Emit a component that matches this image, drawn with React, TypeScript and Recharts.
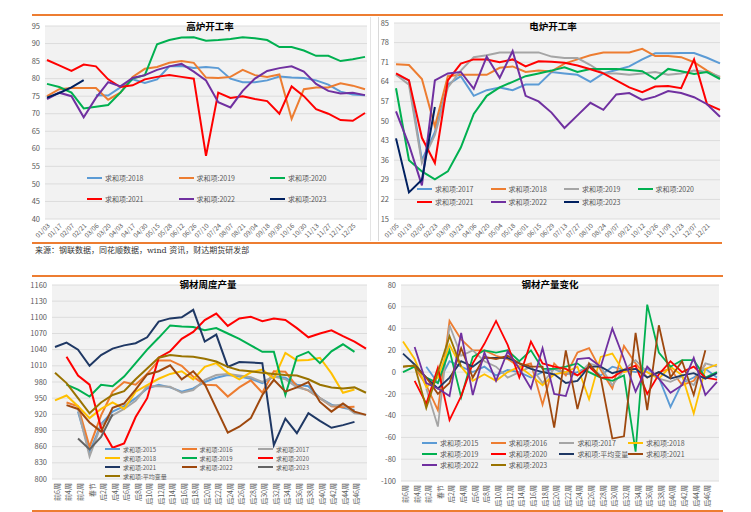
import React from "react"
import { CartesianGrid, Legend, Line, LineChart, XAxis, YAxis } from "recharts"

const FONT = '"Noto Sans CJK SC", "Noto Sans", sans-serif'
const GREY_TEXT = "#595959"

// 高炉开工率
const bfLabels = ["01/03", "01/17", "02/07", "02/21", "03/06", "03/20", "04/03", "04/17", "04/30", "05/15", "05/28", "06/12", "06/26", "07/10", "07/24", "08/07", "08/21", "09/04", "09/18", "09/30", "10/16", "10/30", "11/13", "11/27", "12/11", "12/25", ""]
const bf2018 = [null, null, null, null, 75.3, 75.2, 77.5, 79.8, 78.8, 79.8, 83.5, 83.6, 83, 83.3, 83, 80, 79, 79, 79.5, 80.6, 80.3, 80.2, 79.5, 78.3, 76.3, 75.5, 75.3]
const bf2019 = [75, 77, 77.3, 77.3, 77.3, 74, 76, 80.5, 82.8, 83.3, 84.5, 85, 84.5, 80.3, 80.2, 80.5, 82.5, 81, 80.5, 81.2, 68.5, 77, 77.5, 77.5, 78.7, 78, 77]
const bf2020 = [78.5, 77.6, 76, 71.5, 72, 72.5, 76, 80, 81, 89.8, 91, 91.7, 91.8, 90.8, 91, 91.3, 91.8, 91.5, 91, 89, 89, 88, 86.5, 86.5, 85, 85.5, 86.2]
const bf2021 = [85.3, 83.8, 82.2, 84, 83.5, 79.8, 77.6, 78.1, 79.8, 80.5, 81, 80.5, 80, 58, 76, 74.5, 75, 74.2, 73.6, 70, 77.8, 75, 71.3, 70, 68.2, 68, 70.2]
const bf2022 = [74.2, 76, 75, 69, 74.5, 79, 77.8, 80.2, 81, 82.5, 83.5, 84.2, 82, 79.5, 73.3, 71.8, 76.5, 80, 82.2, 83, 83.5, 82, 78.5, 76.5, 75.8, 76, 75.3]
const bf2023 = [74.6, 75.9, 77.5, 79.6]

// 电炉开工率
const efLabels = ["01/05", "01/19", "02/02", "02/23", "03/09", "03/23", "04/06", "04/20", "05/04", "05/18", "06/01", "06/15", "06/29", "07/13", "07/27", "08/10", "08/24", "09/07", "09/21", "10/12", "10/26", "11/09", "11/23", "12/07", "12/21", ""]
const ef2017 = [66.5, 64.5, 36, 46, 63, 66, 59, 61, 62, 61, 63, 63, 67.5, 67, 66.5, 64, 67, 68.2, 69.5, 72, 74.2, 74.2, 74.3, 74.3, 72.6, 70.6]
const ef2018 = [70.3, 70, 65, 48, 66, 66.5, 66.5, 66.5, 69, 69.5, 67.5, 68, 67.7, 70.5, 72, 73.5, 74.5, 74.5, 74.5, 75.8, 73.2, 73.2, 72.8, 71, 68, 65.5]
const ef2019 = [66.5, 63, 35, 45, 62, 68, 72.8, 73.5, 74.5, 74.5, 74.5, 74.5, 73, 72.5, 72.5, 70, 67, 67, 66.5, 67, 67.5, 66.5, 67, 68, 67.5, 65.8]
const ef2020 = [61.7, 36, 32, 29.2, 32, 40.5, 52.5, 59, 62, 64, 66, 67, 68, 69.2, 67.5, 68.6, 68.6, 68.6, 68.2, 67.8, 65, 68.6, 67.8, 66.8, 67.5, 65]
const ef2021 = [67, 64.5, 44, 35, 64.5, 70.5, 72, 72, 71, 72, 69.5, 71.3, 71.2, 70.8, 69.8, 68.5, 67, 64.5, 62, 60.3, 62.3, 62.5, 61.7, 72, 56, 54]
const ef2022 = [53.4, 41.5, 27, 64.5, 67, 67.5, 61.5, 73, 65.4, 75, 59, 57, 53, 47.5, 52, 56.5, 54, 59.5, 60, 57.5, 58.7, 60.7, 60, 58.5, 56, 51.5]
const ef2023 = [43.8, 24.5, 29, 55]

// 钢材周度产量 / 钢材产量变化
const weekLabels = ["前6周", "前4周", "前2周", "春节", "后2周", "后4周", "后6周", "后8周", "后10周", "后12周", "后14周", "后16周", "后18周", "后20周", "后22周", "后24周", "后26周", "后28周", "后30周", "后32周", "后34周", "后36周", "后38周", "后40周", "后42周", "后44周", "后46周", ""]
const out2015 = [null, null, 925, 850, 902, 925, 935, 950, 968, 975, 970, 962, 968, 980, 988, 993, 990, 986, 978, 990, 988, 975, 972, 950, 938, 932, 928, null]
const out2016 = [null, 942, 935, 860, 918, 962, 980, 975, 995, 1020, 1020, 1010, 990, 975, 974, 953, 970, 983, 960, 1000, 999, 972, 964, 950, 935, 933, 934, null]
const out2017 = [null, null, 930, 842, 900, 918, 930, 945, 972, 972, 971, 960, 965, 984, 993, 995, 992, 989, 980, 990, 985, 970, 965, 950, 936, 938, 922, 919]
const out2018 = [946, 955, 935, 913, 930, 942, 930, 962, 974, 986, 995, 1000, 985, 1008, 1015, 997, 985, 998, 1003, 986, 1034, 1020, 1021, 1025, 996, 960, 966, null]
const out2019 = [null, 975, 966, 953, 975, 972, 990, 1015, 1040, 1062, 1085, 1083, 1082, 1076, 1080, 1070, 1060, 1048, 1036, 1036, 956, 1027, 1036, 1015, 1037, 1050, 1036, null]
const out2020 = [null, 1027, 992, 975, 895, 858, 866, 915, 950, 1025, 1037, 1060, 1073, 1095, 1107, 1084, 1098, 1101, 1093, 1098, 1095, 1080, 1063, 1070, 1076, 1065, 1055, 1042]
const out2021 = [1045, 1053, 1040, 1010, 1030, 1042, 1048, 1052, 1063, 1092, 1098, 1100, 1114, 1055, 1068, 1008, 1017, 1016, 1015, 863, 912, 885, 922, 908, 895, 900, 906, null]
const out2022 = [null, 937, 930, 905, 888, 932, 940, 966, 994, 1000, 1011, 985, 1000, 976, 931, 886, 897, 913, 956, 984, 962, 970, 980, 943, 925, 940, 925, 919]
const out2023 = [null, null, 875, 855, 878, 920]
const outAvg = [997, 978, 950, 922, 942, 956, 963, 985, 1005, 1025, 1030, 1028, 1027, 1023, 1018, 1008, 1002, 1000, 997, 995, 993, 992, 985, 975, 970, 968, 970, 960]

const chg2015 = [null, null, 5, -10, 10, 5, 0, 5, -3, 2, 0, -5, 0, 3, -2, 0, 5, -3, 5, 2, 0, 3, -5, -32, -10, -5, 3, -5]
const chg2016 = [null, 5, -12, -35, 47, 30, 20, 20, 15, 12, 5, 8, -30, 8, -3, 18, 22, 2, -15, 24, 8, -5, 0, 3, -12, -8, 7, null]
const chg2017 = [null, null, -15, -50, 43, 15, 20, 10, 5, -5, 0, 5, -10, 3, 0, -3, 8, 5, -12, 2, 11, 0, -6, -9, -4, -12, 8, 5]
const chg2018 = [28, 12, -14, -5, 25, 5, -8, -2, -8, 0, 5, -3, -12, -2, 0, 5, -25, 14, 17, 0, 3, 0, -6, 5, -3, -38, 3, 7]
const chg2019 = [0, 5, -5, -10, 20, -23, 14, 20, 18, 20, 10, 20, 3, 3, 5, 8, 0, -5, -8, -3, -73, 62, 18, 5, 11, 11, -5, 0]
const chg2020 = [null, -8, -29, 4, -44, -22, 8, 26, 47, 25, -5, 28, 8, 5, 3, -3, 5, -5, -5, 2, 6, -20, -2, 10, 0, 5, -5, -7]
const chgAvg = [17, 7, -5, -15, -5, 10, 5, 13, 13, 13, 8, 3, 0, -2, -10, -8, 5, 5, -1, 2, 3, -5, 0, -6, -3, -1, -6, -1]
const chg2021 = [5, 6, -5, -20, -10, 22, -5, 14, 12, 15, 8, 5, 5, -51, 20, -34, 8, -5, -61, -59, 36, -35, 43, -5, 10, -21, 20, null]
const chg2022 = [null, 23, -10, -15, -22, 36, -21, 18, -8, 19, 3, -15, 22, -20, -22, 12, 13, 5, 40, 12, -18, 5, -6, -19, -12, 13, -21, -9]
const chg2023 = [5, 6, -33, 0, 33, 5]

type Series = { key: string; name: string; color: string; values: (number | null)[] }

const buildRows = (labels: string[], series: Series[]) =>
  labels.map((label, i) => {
    const row: Record<string, any> = { label }
    series.forEach((s) => {
      row[s.key] = s.values[i] ?? null
    })
    return row
  })

const bfSeries: Series[] = [
  { key: "a2018", name: "求和项:2018", color: "#5B9BD5", values: bf2018 },
  { key: "a2019", name: "求和项:2019", color: "#ED7D31", values: bf2019 },
  { key: "a2020", name: "求和项:2020", color: "#00B050", values: bf2020 },
  { key: "a2021", name: "求和项:2021", color: "#FF0000", values: bf2021 },
  { key: "a2022", name: "求和项:2022", color: "#7030A0", values: bf2022 },
  { key: "a2023", name: "求和项:2023", color: "#002060", values: bf2023 },
]

const efSeries: Series[] = [
  { key: "b2017", name: "求和项:2017", color: "#5B9BD5", values: ef2017 },
  { key: "b2018", name: "求和项:2018", color: "#ED7D31", values: ef2018 },
  { key: "b2019", name: "求和项:2019", color: "#A5A5A5", values: ef2019 },
  { key: "b2020", name: "求和项:2020", color: "#00B050", values: ef2020 },
  { key: "b2021", name: "求和项:2021", color: "#FF0000", values: ef2021 },
  { key: "b2022", name: "求和项:2022", color: "#7030A0", values: ef2022 },
  { key: "b2023", name: "求和项:2023", color: "#002060", values: ef2023 },
]

const outSeries: Series[] = [
  { key: "c2015", name: "求和项:2015", color: "#5B9BD5", values: out2015 },
  { key: "c2016", name: "求和项:2016", color: "#ED7D31", values: out2016 },
  { key: "c2017", name: "求和项:2017", color: "#A5A5A5", values: out2017 },
  { key: "c2018", name: "求和项:2018", color: "#FFC000", values: out2018 },
  { key: "c2019", name: "求和项:2019", color: "#00B050", values: out2019 },
  { key: "c2020", name: "求和项:2020", color: "#FF0000", values: out2020 },
  { key: "c2021", name: "求和项:2021", color: "#1F3864", values: out2021 },
  { key: "c2022", name: "求和项:2022", color: "#9E480E", values: out2022 },
  { key: "c2023", name: "求和项:2023", color: "#636363", values: out2023 },
  { key: "cavg", name: "求和项:平均变量", color: "#997300", values: outAvg },
]

const chgSeries: Series[] = [
  { key: "d2015", name: "求和项:2015", color: "#5B9BD5", values: chg2015 },
  { key: "d2016", name: "求和项:2016", color: "#ED7D31", values: chg2016 },
  { key: "d2017", name: "求和项:2017", color: "#A5A5A5", values: chg2017 },
  { key: "d2018", name: "求和项:2018", color: "#FFC000", values: chg2018 },
  { key: "d2019", name: "求和项:2019", color: "#00B050", values: chg2019 },
  { key: "d2020", name: "求和项:2020", color: "#FF0000", values: chg2020 },
  { key: "davg", name: "求和项:平均变量", color: "#1F3864", values: chgAvg },
  { key: "d2021", name: "求和项:2021", color: "#9E480E", values: chg2021 },
  { key: "d2022", name: "求和项:2022", color: "#7030A0", values: chg2022 },
  { key: "d2023", name: "求和项:2023", color: "#997300", values: chg2023 },
]

const range = (from: number, to: number, step: number) => {
  const out: number[] = []
  for (let v = from; v <= to; v += step) out.push(v)
  return out
}

const legendContent = (series: Series[], cols: number, colW: number, rowH: number, fontSize: number) => () => (
  <div
    style={{
      display: "grid",
      gridTemplateColumns: `repeat(${cols}, ${colW}px)`,
      gridAutoRows: `${rowH}px`,
      fontSize,
      lineHeight: `${rowH}px`,
      color: GREY_TEXT,
      fontFamily: FONT,
    }}
  >
    {series.map((s) => (
      <div key={s.key} style={{ display: "flex", alignItems: "center", whiteSpace: "nowrap", height: rowH }}>
        <span style={{ display: "inline-block", width: 15, height: 2.5, background: s.color, marginRight: 3, flex: "none" }} />
        <span>{s.name}</span>
      </div>
    ))}
  </div>
)

type PanelProps = {
  left: number
  top: number
  width: number
  height: number
  margin: { top: number; right: number; bottom: number; left: number }
  yWidth: number
  xHeight: number
  padding: { left: number; right: number }
  domain: [number, number]
  ticks: number[]
  labels: string[]
  series: Series[]
  angle: number
  xFont: number
  legend: { left: number; top: number; cols: number; colW: number; rowH: number; fontSize: number }
  strokeWidth: number
}

function Panel(p: PanelProps) {
  const rows = buildRows(p.labels, p.series)
  return (
    <div style={{ position: "absolute", left: p.left, top: p.top }}>
      <LineChart width={p.width} height={p.height} data={rows} margin={p.margin}>
        <CartesianGrid vertical={false} stroke="#DCDCDC" fill="#F2F2F2" fillOpacity={1} />
        <XAxis
          dataKey="label"
          interval={0}
          height={p.xHeight}
          padding={p.padding}
          axisLine={false}
          tickLine={false}
          tickSize={2}
          angle={p.angle}
          textAnchor="end"
          tick={{ fontSize: p.xFont, fill: GREY_TEXT, fontFamily: FONT }}
        />
        <YAxis
          domain={p.domain}
          ticks={p.ticks}
          width={p.yWidth}
          axisLine={false}
          tickLine={false}
          tickSize={3}
          tickMargin={2}
          interval={0}
          tick={{ fontSize: 7.5, fill: GREY_TEXT, fontFamily: FONT }}
        />
        <Legend
          verticalAlign="middle"
          layout="horizontal"
          content={legendContent(p.series, p.legend.cols, p.legend.colW, p.legend.rowH, p.legend.fontSize)}
          wrapperStyle={{ left: p.legend.left, top: p.legend.top, width: p.legend.cols * p.legend.colW }}
        />
        {p.series.map((s) => (
          <Line
            key={s.key}
            dataKey={s.key}
            name={s.name}
            stroke={s.color}
            strokeWidth={p.strokeWidth}
            dot={false}
            activeDot={false}
            type="linear"
            isAnimationActive={false}
          />
        ))}
      </LineChart>
    </div>
  )
}

const Title = ({ x, y, text }: { x: number; y: number; text: string }) => (
  <div
    style={{
      position: "absolute",
      left: x - 60,
      top: y - 7,
      width: 120,
      textAlign: "center",
      fontSize: 9.5,
      fontWeight: 700,
      lineHeight: "14px",
      color: "#000",
      fontFamily: FONT,
    }}
  >
    {text}
  </div>
)

const hr = (left: number, top: number, width: number) => (
  <div style={{ position: "absolute", left, top, width, height: 2, background: "#ED7D31" }} />
)

export default function App() {
  return (
    <div style={{ position: "absolute", left: 0, top: 0, width: 751, height: 512, background: "#fff", overflow: "hidden" }}>
      <div style={{ position: "absolute", left: 370, top: 17, width: 1, height: 224, background: "#E4E4E4" }} />
      <div style={{ position: "absolute", left: 378, top: 17, width: 1, height: 224, background: "#D9D9D9" }} />
      <Panel
        left={0}
        top={0}
        width={375}
        height={245}
        margin={{ top: 26, right: 8, bottom: 0, left: 0 }}
        yWidth={45}
        xHeight={26}
        padding={{ left: 2, right: 2 }}
        domain={[40, 95]}
        ticks={range(40, 95, 5)}
        labels={bfLabels}
        series={bfSeries}
        angle={-45}
        xFont={6.5}
        legend={{ left: 87, top: 167.5, cols: 3, colW: 91.5, rowH: 21, fontSize: 7 }}
        strokeWidth={2}
      />
      <Panel
        left={375}
        top={0}
        width={376}
        height={245}
        margin={{ top: 23, right: 31, bottom: 0, left: 0 }}
        yWidth={19}
        xHeight={26}
        padding={{ left: 2, right: 0 }}
        domain={[15, 85]}
        ticks={range(15, 85, 7)}
        labels={efLabels}
        series={efSeries}
        angle={-45}
        xFont={6.5}
        legend={{ left: 42, top: 182.5, cols: 4, colW: 73.5, rowH: 13, fontSize: 7 }}
        strokeWidth={2}
      />
      <Panel
        left={0}
        top={250}
        width={375}
        height={262}
        margin={{ top: 35, right: 8, bottom: 0, left: 0 }}
        yWidth={52}
        xHeight={33}
        padding={{ left: 3, right: 1 }}
        domain={[800, 1160]}
        ticks={range(800, 1160, 30)}
        labels={weekLabels}
        series={outSeries}
        angle={-90}
        xFont={7}
        legend={{ left: 105, top: 194.5, cols: 3, colW: 76.5, rowH: 9, fontSize: 6 }}
        strokeWidth={2}
      />
      <Panel
        left={375}
        top={250}
        width={376}
        height={262}
        margin={{ top: 35, right: 32, bottom: 0, left: 0 }}
        yWidth={26}
        xHeight={31}
        padding={{ left: 2, right: 2 }}
        domain={[-100, 80]}
        ticks={range(-100, 80, 20)}
        labels={weekLabels}
        series={chgSeries}
        angle={-90}
        xFont={7}
        legend={{ left: 47, top: 187.5, cols: 4, colW: 68.7, rowH: 11, fontSize: 7 }}
        strokeWidth={1.8}
      />
      {hr(32, 14, 691)}
      {hr(32, 242, 690)}
      {hr(32, 275, 691)}
      {hr(32, 510, 691)}
      <Title x={210} y={26} text="高炉开工率" />
      <Title x={553} y={26} text="电炉开工率" />
      <Title x={208} y={284} text="钢材周度产量" />
      <Title x={550} y={284} text="钢材产量变化" />
      <div
        style={{
          position: "absolute",
          left: 35,
          top: 245,
          fontSize: 8,
          lineHeight: "12px",
          color: "#333",
          whiteSpace: "nowrap",
          fontFamily: '"DejaVu Serif", "Noto Sans CJK SC", serif',
        }}
      >
        来源：钢联数据，同花顺数据，wind 资讯，财达期货研发部
      </div>
    </div>
  )
}
